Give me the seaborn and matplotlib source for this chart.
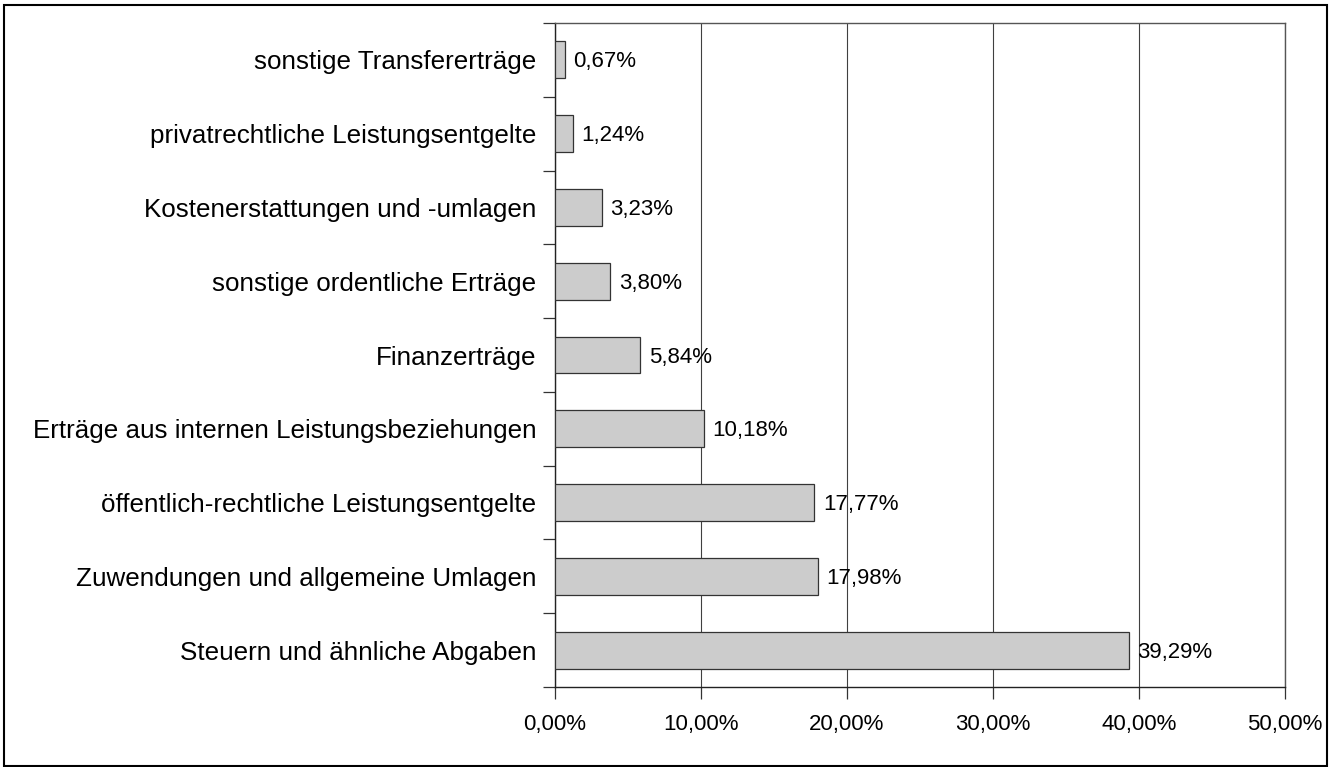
import matplotlib
matplotlib.use("Agg")
import matplotlib.pyplot as plt
import seaborn as sns
import pandas as pd
import numpy as np
from matplotlib.patches import Rectangle
from matplotlib.transforms import offset_copy

categories = [
    "sonstige Transfererträge",
    "privatrechtliche Leistungsentgelte",
    "Kostenerstattungen und -umlagen",
    "sonstige ordentliche Erträge",
    "Finanzerträge",
    "Erträge aus internen Leistungsbeziehungen",
    "öffentlich-rechtliche Leistungsentgelte",
    "Zuwendungen und allgemeine Umlagen",
    "Steuern und ähnliche Abgaben",
]
values = [0.67, 1.24, 3.23, 3.80, 5.84, 10.18, 17.77, 17.98, 39.29]
xticks = [0, 10, 20, 30, 40, 50]

sns.set_theme(style="white")
plt.rcParams['font.family'] = ['Liberation Sans', 'DejaVu Sans']
plt.rcParams['text.color'] = 'black'
plt.rcParams['xtick.color'] = '#333333'
plt.rcParams['ytick.color'] = '#333333'
plt.rcParams['xtick.labelcolor'] = 'black'
plt.rcParams['ytick.labelcolor'] = 'black'

df = pd.DataFrame({"cat": categories, "val": values})

fig = plt.figure(figsize=(13.35, 7.67), dpi=100)
ax = fig.add_axes([555/1335, 1-687/767, (1285-555)/1335, (687-23)/767])

sns.barplot(data=df, y="cat", x="val", orient="h", color="#cccccc",
            edgecolor="#333333", linewidth=0.9, width=0.5, saturation=1, ax=ax, zorder=3)

ax.set_xlim(0, 50)
ax.set_ylim(len(categories)-0.5, -0.5)
ax.set_xticks(xticks)
ax.set_xticklabels([f"{v:.2f}%".replace(".", ",") for v in xticks], fontsize=16)
ax.set_xlabel("")
ax.set_ylabel("")

ax.set_yticks(np.arange(len(categories)))
ax.set_yticklabels(categories, fontsize=18.7)
ax.tick_params(axis='y', length=0, pad=13.5)
ax.set_yticks(np.arange(-0.5, len(categories)+0.5, 1), minor=True)
ax.tick_params(axis='y', which='minor', length=8.6, width=0.9, direction='out', left=True)
ax.tick_params(axis='x', length=8.6, width=0.9, direction='out', bottom=True, pad=10.5)

ax.grid(axis='x', color="#404040", linewidth=0.8, zorder=0)
ax.grid(axis='y', visible=False)
for s in ax.spines.values():
    s.set_visible(True)
    s.set_color("#555555")
    s.set_linewidth(1.0)
ax.spines['left'].set_color("#222222")
ax.spines['bottom'].set_color("#222222")

trans = offset_copy(ax.transData, fig=fig, x=6, y=-1.5, units='points')
for i, v in enumerate(values):
    ax.text(v, i, f"{v:.2f}%".replace(".", ","), va='center', ha='left',
            fontsize=16, zorder=4, transform=trans)

fig.patches.append(Rectangle((4/1335, 1-766/767), (1327-4)/1335, (766-5)/767,
                             transform=fig.transFigure, fill=False, edgecolor="black", linewidth=1.5))

fig.savefig("out.png", dpi=100, facecolor="white")
